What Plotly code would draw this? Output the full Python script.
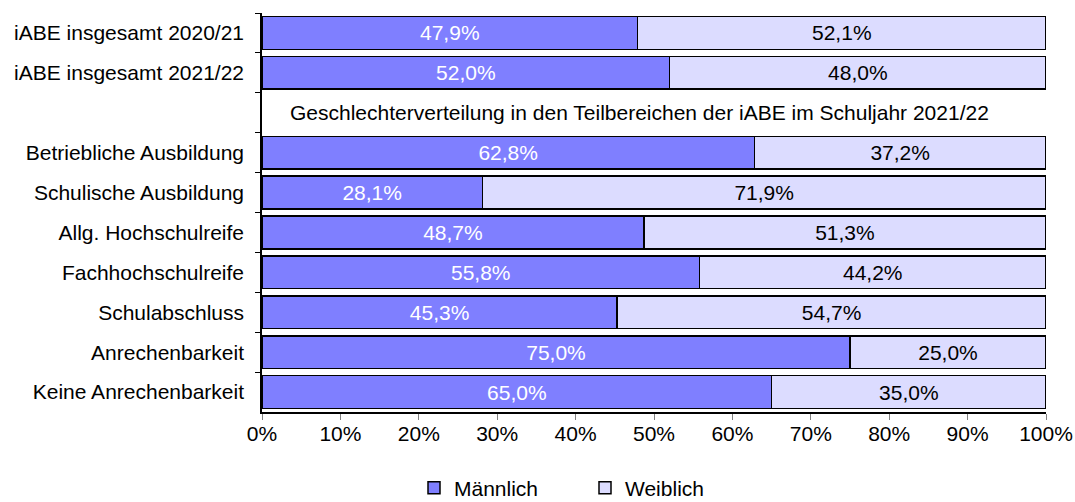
import plotly.graph_objects as go

categories = ["iABE insgesamt 2020/21", "iABE insgesamt 2021/22", " ",
              "Betriebliche Ausbildung", "Schulische Ausbildung", "Allg. Hochschulreife",
              "Fachhochschulreife", "Schulabschluss", "Anrechenbarkeit", "Keine Anrechenbarkeit"]
male = [47.9, 52.0, None, 62.8, 28.1, 48.7, 55.8, 45.3, 75.0, 65.0]
female = [52.1, 48.0, None, 37.2, 71.9, 51.3, 44.2, 54.7, 25.0, 35.0]
x_ticks = [0, 10, 20, 30, 40, 50, 60, 70, 80, 90, 100]
x_tick_labels = [f"{v}%" for v in x_ticks]
subtitle = "Geschlechterverteilung in den Teilbereichen der iABE im Schuljahr 2021/22"


def fmt(v):
    return "" if v is None else f"{v:.1f}%".replace(".", ",")


FONT = "Liberation Sans, Arial, sans-serif"
FS = 21

fig = go.Figure()
fig.add_trace(go.Bar(
    y=categories, x=male, orientation="h", name="Männlich",
    marker=dict(color="#7F7FFF", line=dict(color="black", width=1.5)),
    text=[fmt(v) for v in male], textposition="inside", insidetextanchor="middle",
    textfont=dict(color="white", size=FS, family=FONT), hoverinfo="x+y",
))
fig.add_trace(go.Bar(
    y=categories, x=female, orientation="h", name="Weiblich",
    marker=dict(color="#DCDCFF", line=dict(color="black", width=1.5)),
    text=[fmt(v) for v in female], textposition="inside", insidetextanchor="middle",
    textfont=dict(color="black", size=FS, family=FONT), hoverinfo="x+y",
))

fig.add_annotation(x=0.033, xref="paper", y=" ", yref="y", text=subtitle,
                   showarrow=False, xanchor="left", font=dict(size=FS, color="black", family=FONT))

fig.update_layout(
    width=1075, height=502,
    margin=dict(l=262, r=29, t=13, b=90, autoexpand=False),
    barmode="stack", bargap=0.18,
    plot_bgcolor="white", paper_bgcolor="white",
    font=dict(family=FONT, size=FS, color="black"),
    uniformtext=dict(minsize=8, mode="show"),
    showlegend=True,
    legend=dict(orientation="h", x=(414 - 262) / 784, xanchor="left", xref="paper",
                y=(412 - 488) / 399, yanchor="middle", yref="paper",
                font=dict(size=FS, family=FONT), entrywidth=126, traceorder="normal",
                itemwidth=30),
    xaxis=dict(range=[0, 100], tickvals=x_ticks, ticktext=x_tick_labels, showgrid=False,
               showline=True, linecolor="black", linewidth=1.5, ticks="outside",
               ticklen=6, tickcolor="#808080", zeroline=False, fixedrange=True,
               ticklabelstandoff=-4),
    yaxis=dict(type="category", categoryorder="array", categoryarray=categories,
               autorange="reversed", showgrid=False, showline=True, linecolor="black",
               linewidth=1.5, ticks="outside", tickson="boundaries", ticklen=5,
               tickcolor="black", ticklabelstandoff=12, fixedrange=True),
)

fig.write_html("out.html", config={"displayModeBar": False})

with open("out.html", "r", encoding="utf-8") as f:
    html = f.read()
html = html.replace("<head>", "<head><style>html,body{margin:0;padding:0;overflow:hidden;}</style>", 1)
with open("out.html", "w", encoding="utf-8") as f:
    f.write(html)
